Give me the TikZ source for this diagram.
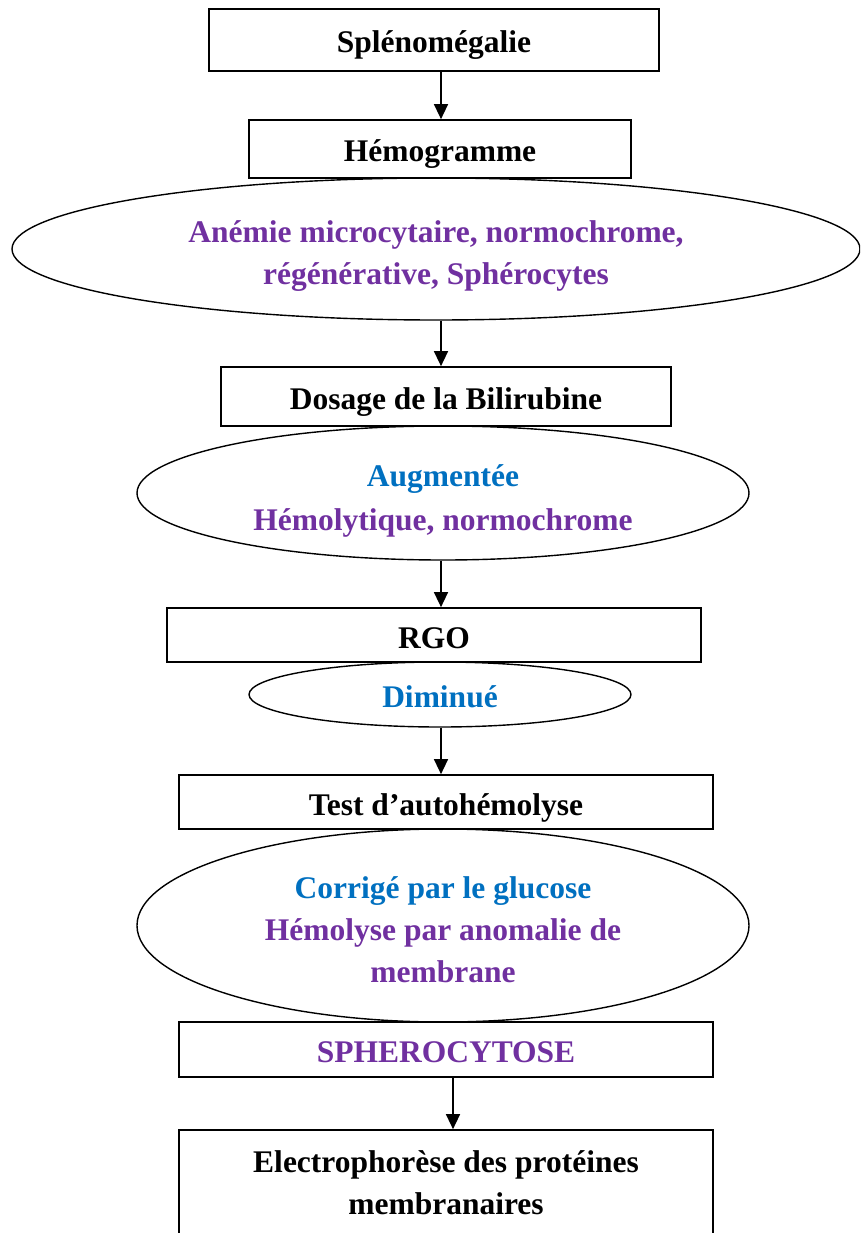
\documentclass[tikz,border=0pt]{standalone}
\usepackage{fontspec}
\setmainfont{Liberation Serif}
\usetikzlibrary{shapes.geometric,arrows.meta}
\definecolor{vio}{HTML}{7030A0}
\definecolor{azur}{HTML}{0070C0}
\newcommand{\topstrut}[1]{\rule{0pt}{#1}}
\begin{document}
\begin{tikzpicture}[x=1pt,y=-1pt,
  txt/.style={font=\fontsize{31.5}{42}\selectfont\bfseries,align=center},
  box/.style={draw,line width=1.7pt,rectangle,inner sep=0pt,txt},
  one/.style={text height=26pt,text depth=0pt},
  ell/.style={draw,line width=1.4pt,ellipse,inner sep=0pt,txt},
  arr/.style={line width=1.4pt,-{Triangle[length=15pt,width=14pt]}}]
\useasboundingbox (0,0) rectangle (860,1233);
\clip (0,0) rectangle (860,1233);
\fill[white] (0,0) rectangle (860,1233);
\coordinate (ax) at (441,0);
\coordinate (bx) at (453,0);

\node[box,one,minimum width=450pt,minimum height=62pt] (b1) at (434,40) {Splénomégalie};
\node[box,one,minimum width=382pt,minimum height=58pt] (b2) at (440,149) {Hémogramme};
\node[ell,text=vio,minimum width=848pt,minimum height=142pt] (e1) at (436,249)
  {\topstrut{36pt}Anémie microcytaire, normochrome,\\régénérative, Sphérocytes};
\node[box,one,minimum width=450pt,minimum height=59pt] (b3) at (446,396.5) {Dosage de la Bilirubine};
\node[ell,minimum width=612pt,minimum height=134pt] (e2) at (443,493)
  {\topstrut{38pt}\textcolor{azur}{Augmentée}\\[2pt]\textcolor{vio}{Hémolytique, normochrome}};
\node[box,one,minimum width=534pt,minimum height=54pt] (b4) at (434,635) {RGO};
\node[ell,one,text=azur,minimum width=382pt,minimum height=65pt] (e3) at (440,694.5) {Diminué};
\node[box,one,minimum width=534pt,minimum height=54pt] (b5) at (446,802) {Test d’autohémolyse};
\node[ell,minimum width=612pt,minimum height=193pt] (e4) at (443,925.5)
  {\topstrut{30pt}\textcolor{azur}{Corrigé par le glucose}\\\textcolor{vio}{Hémolyse par anomalie de}\\\textcolor{vio}{membrane}};
\node[box,one,text=vio,minimum width=534pt,minimum height=55pt] (b6) at (446,1049.5) {SPHEROCYTOSE};
\node[box,minimum width=534pt,minimum height=106pt] (b7) at (446,1183)
  {Electrophorèse des protéines\\membranaires};

\draw[arr] (b1.south -| ax) -- (b2.north -| ax);
\draw[arr] (e1.south -| ax) -- (b3.north -| ax);
\draw[arr] (e2.south -| ax) -- (b4.north -| ax);
\draw[arr] (e3.south -| ax) -- (b5.north -| ax);
\draw[arr] (b6.south -| bx) -- (b7.north -| bx);
\end{tikzpicture}
\end{document}
